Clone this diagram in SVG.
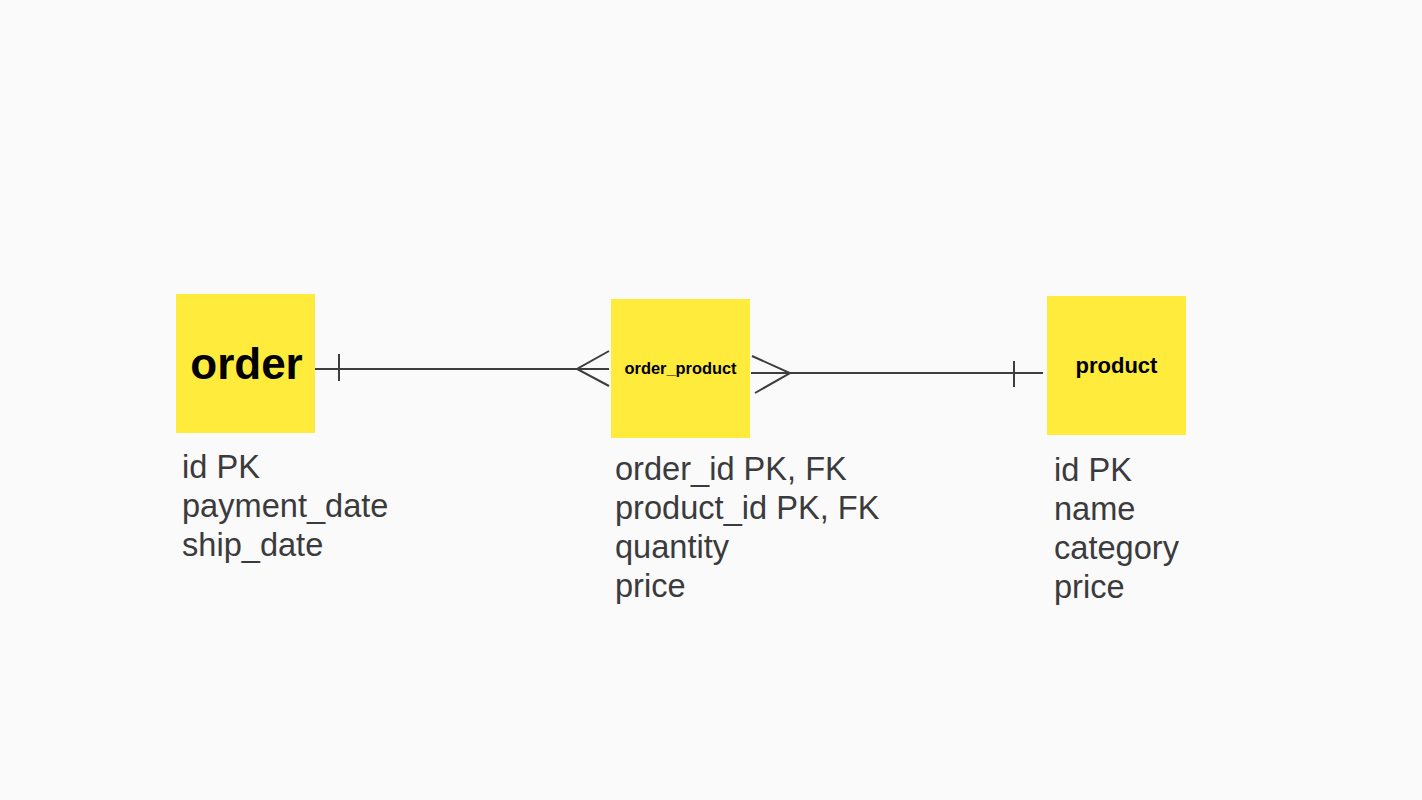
<svg xmlns="http://www.w3.org/2000/svg" width="1422" height="800" viewBox="0 0 1422 800">
<style>
.box{fill:#ffeb3b}
.title{font-family:"Liberation Sans",Arial,sans-serif;font-weight:700;fill:#000;text-anchor:middle}
.attr{font-family:"Liberation Sans",Arial,sans-serif;font-size:32.6px;fill:#3b3b3d}
.ln{stroke:#3d3d3d;stroke-width:2;fill:none}
</style>
<rect width="1422" height="800" fill="#fafafa"/>
<g id="order">
<rect class="box" x="176" y="294" width="139" height="139"/>
<text class="title" x="246.5" y="379" font-size="44">order</text>
<text class="attr" x="182" y="478">id PK</text>
<text class="attr" x="182" y="517">payment_date</text>
<text class="attr" x="182" y="556">ship_date</text>
</g>
<g id="order_product">
<rect class="box" x="611" y="299" width="139" height="139"/>
<text class="title" x="680.5" y="374" font-size="16.4">order_product</text>
<text class="attr" x="615" y="480">order_id PK, FK</text>
<text class="attr" x="615" y="519">product_id PK, FK</text>
<text class="attr" x="615" y="558">quantity</text>
<text class="attr" x="615" y="597">price</text>
</g>
<g id="product">
<rect class="box" x="1047" y="296" width="139" height="139"/>
<text class="title" x="1116.5" y="373" font-size="22">product</text>
<text class="attr" x="1054" y="481">id PK</text>
<text class="attr" x="1054" y="520">name</text>
<text class="attr" x="1054" y="559">category</text>
<text class="attr" x="1054" y="598">price</text>
</g>
<g id="connectors">
<path class="ln" d="M315 369H609M339 354V381M609 351L577 369L609 386"/>
<path class="ln" d="M751 373H1043M1014 361V387M752 356L790 373L755 393"/>
</g>
</svg>
